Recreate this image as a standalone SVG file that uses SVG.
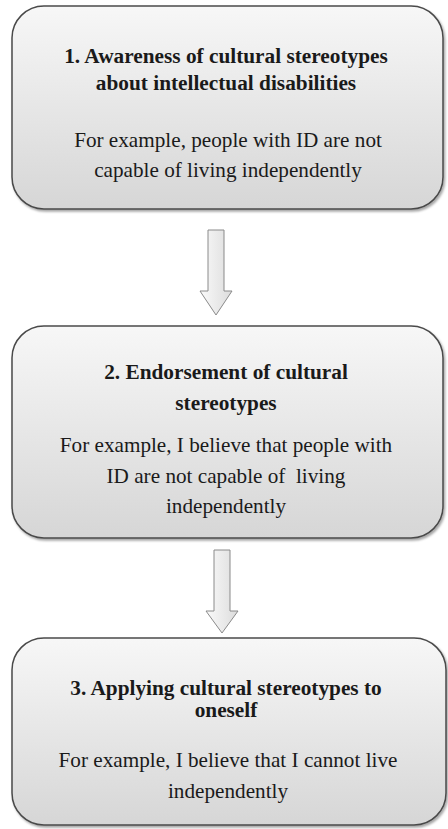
<svg xmlns="http://www.w3.org/2000/svg" width="448" height="829" viewBox="0 0 448 829">
<defs>
<linearGradient id="boxg" x1="0" y1="0" x2="0" y2="1">
<stop offset="0" stop-color="#f7f7f7"/>
<stop offset="1" stop-color="#d6d6d6"/>
</linearGradient>
<linearGradient id="arrg" x1="0" y1="0" x2="1" y2="0">
<stop offset="0" stop-color="#fafafa"/>
<stop offset="1" stop-color="#dcdcdc"/>
</linearGradient>
<filter id="sh" x="-5%" y="-5%" width="110%" height="115%">
<feDropShadow dx="1.5" dy="2" stdDeviation="1.2" flood-color="#000" flood-opacity="0.35"/>
</filter>
</defs>
<style>
.box{fill:url(#boxg);stroke:#4a4a4a;stroke-width:1.5;filter:url(#sh)}
.arrow{fill:url(#arrg);stroke:#8a8a8a;stroke-width:1}
text{font-family:"Liberation Serif","Times New Roman",serif;fill:#1a1a1a;text-anchor:middle}
.t{font-size:21.3px;font-weight:bold}
.b{font-size:21.2px}
</style>
<rect width="448" height="829" fill="#ffffff"/>
<g id="connectors">
<path id="arrow1" class="arrow" d="M208,230 H224 V291 H232 L216,315 L200,291 H208 Z"/>
<path id="arrow2" class="arrow" d="M214,550 H230 V611 H238 L222,633 L206,611 H214 Z"/>
</g>
<g id="node1">
<rect class="box" x="12" y="6" width="431" height="203" rx="32" ry="32"/>
<text class="t" x="226" y="63">1. Awareness of cultural stereotypes</text>
<text class="t" x="226" y="90">about intellectual disabilities</text>
<text class="b" x="228" y="147">For example, people with ID are not</text>
<text class="b" x="228" y="177">capable of living independently</text>
</g>
<g id="node2">
<rect class="box" x="12" y="326" width="431" height="212" rx="32" ry="32"/>
<text class="t" x="226" y="379">2. Endorsement of cultural</text>
<text class="t" x="226" y="410">stereotypes</text>
<text class="b" x="226" y="452">For example, I believe that people with</text>
<text class="b" x="226" y="483" xml:space="preserve">ID are not capable of  living</text>
<text class="b" x="226" y="513">independently</text>
</g>
<g id="node3">
<rect class="box" x="12" y="638" width="434" height="187" rx="32" ry="32"/>
<text class="t" x="226" y="695">3. Applying cultural stereotypes to</text>
<text class="t" x="226" y="717">oneself</text>
<text class="b" x="228" y="767">For example, I believe that I cannot live</text>
<text class="b" x="228" y="798">independently</text>
</g>
</svg>
